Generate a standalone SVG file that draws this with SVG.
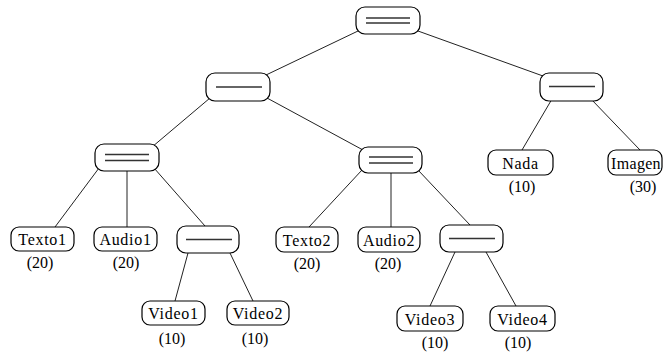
<svg xmlns="http://www.w3.org/2000/svg" width="664" height="352" viewBox="0 0 664 352">
<defs>
<style>
.box{fill:#fff;stroke:#000;stroke-width:1.2}
.bar{stroke:#333;stroke-width:1.6}
.edge{stroke:#222;stroke-width:1;fill:none}
</style>
</defs>
<rect width="664" height="352" fill="#fff"/>
<g id="connectors">
<line class="edge" x1="358" y1="31" x2="266" y2="75"/>
<line class="edge" x1="418" y1="31" x2="543" y2="76"/>
<line class="edge" x1="210" y1="98" x2="152" y2="147"/>
<line class="edge" x1="267" y1="98" x2="363" y2="150"/>
<line class="edge" x1="99" y1="168" x2="55" y2="227"/>
<line class="edge" x1="127" y1="171" x2="127" y2="227"/>
<line class="edge" x1="154" y1="168" x2="205" y2="226"/>
<line class="edge" x1="188" y1="253" x2="175" y2="301"/>
<line class="edge" x1="230" y1="253" x2="253" y2="301"/>
<line class="edge" x1="362" y1="170" x2="309" y2="227"/>
<line class="edge" x1="391" y1="173" x2="391" y2="227"/>
<line class="edge" x1="418" y1="170" x2="470" y2="225"/>
<line class="edge" x1="455" y1="252" x2="430" y2="306"/>
<line class="edge" x1="486" y1="252" x2="516" y2="306"/>
<line class="edge" x1="552" y1="99" x2="522" y2="150"/>
<line class="edge" x1="591" y1="99" x2="640" y2="150"/>
</g>
<g id="root">
<rect class="box" x="356" y="7" width="64" height="27" rx="9"/>
<line class="bar" x1="366" y1="18" x2="410" y2="18"/>
<line class="bar" x1="366" y1="23" x2="410" y2="23"/>
</g>
<g id="n1L">
<rect class="box" x="206" y="73" width="64" height="28" rx="9"/>
<line class="bar" x1="216" y1="87" x2="262" y2="87"/>
</g>
<g id="n1R">
<rect class="box" x="540" y="73" width="63" height="28" rx="9"/>
<line class="bar" x1="549" y1="86.5" x2="595" y2="86.5"/>
</g>
<g id="n2L">
<rect class="box" x="95" y="144" width="64" height="27" rx="9"/>
<line class="bar" x1="105" y1="154.5" x2="149" y2="154.5"/>
<line class="bar" x1="105" y1="160.5" x2="149" y2="160.5"/>
</g>
<g id="n2R">
<rect class="box" x="359" y="147" width="63" height="26" rx="9"/>
<line class="bar" x1="369" y1="157" x2="413" y2="157"/>
<line class="bar" x1="369" y1="163" x2="413" y2="163"/>
</g>
<g id="n3L">
<rect class="box" x="177" y="226" width="62" height="27" rx="9"/>
<line class="bar" x1="186" y1="239.5" x2="232" y2="239.5"/>
</g>
<g id="n3R">
<rect class="box" x="440" y="225" width="63" height="27" rx="9"/>
<line class="bar" x1="449" y1="238.5" x2="495" y2="238.5"/>
</g>
<g id="texto1">
<rect class="box" x="11" y="227" width="63" height="24" rx="8"/>
<text x="42.5" y="245" font-family="Liberation Serif" font-size="16" letter-spacing="0.7" text-anchor="middle">Texto1</text>
<text x="40" y="268" font-family="Liberation Serif" font-size="16" text-anchor="middle">(20)</text>
</g>
<g id="audio1">
<rect class="box" x="94" y="227" width="63" height="24" rx="8"/>
<text x="125.5" y="245" font-family="Liberation Serif" font-size="16" letter-spacing="0.7" text-anchor="middle">Audio1</text>
<text x="126" y="268" font-family="Liberation Serif" font-size="16" text-anchor="middle">(20)</text>
</g>
<g id="video1">
<rect class="box" x="142" y="301" width="63" height="24" rx="8"/>
<text x="173.5" y="319" font-family="Liberation Serif" font-size="16" letter-spacing="0.7" text-anchor="middle">Video1</text>
<text x="172" y="344" font-family="Liberation Serif" font-size="16" text-anchor="middle">(10)</text>
</g>
<g id="video2">
<rect class="box" x="227" y="301" width="62" height="24" rx="8"/>
<text x="258" y="319" font-family="Liberation Serif" font-size="16" letter-spacing="0.7" text-anchor="middle">Video2</text>
<text x="255" y="344" font-family="Liberation Serif" font-size="16" text-anchor="middle">(10)</text>
</g>
<g id="texto2">
<rect class="box" x="276" y="227" width="62" height="25" rx="8"/>
<text x="307" y="246" font-family="Liberation Serif" font-size="16" letter-spacing="0.7" text-anchor="middle">Texto2</text>
<text x="307" y="269" font-family="Liberation Serif" font-size="16" text-anchor="middle">(20)</text>
</g>
<g id="audio2">
<rect class="box" x="358" y="227" width="62" height="25" rx="8"/>
<text x="389" y="246" font-family="Liberation Serif" font-size="16" letter-spacing="0.7" text-anchor="middle">Audio2</text>
<text x="388" y="269" font-family="Liberation Serif" font-size="16" text-anchor="middle">(20)</text>
</g>
<g id="video3">
<rect class="box" x="397" y="306" width="66" height="25" rx="8"/>
<text x="430" y="325" font-family="Liberation Serif" font-size="16" letter-spacing="0.7" text-anchor="middle">Video3</text>
<text x="435" y="348" font-family="Liberation Serif" font-size="16" text-anchor="middle">(10)</text>
</g>
<g id="video4">
<rect class="box" x="490" y="306" width="65" height="25" rx="8"/>
<text x="522.5" y="325" font-family="Liberation Serif" font-size="16" letter-spacing="0.7" text-anchor="middle">Video4</text>
<text x="518" y="348" font-family="Liberation Serif" font-size="16" text-anchor="middle">(10)</text>
</g>
<g id="nada">
<rect class="box" x="488" y="150" width="65" height="25" rx="8"/>
<text x="520.5" y="169" font-family="Liberation Serif" font-size="16" letter-spacing="0.7" text-anchor="middle">Nada</text>
<text x="522" y="192" font-family="Liberation Serif" font-size="16" text-anchor="middle">(10)</text>
</g>
<g id="imagen">
<rect class="box" x="608" y="150" width="54" height="25" rx="8"/>
<text x="636" y="169" font-family="Liberation Serif" font-size="16" letter-spacing="0.3" text-anchor="middle">Imagen</text>
<text x="643" y="192" font-family="Liberation Serif" font-size="16" text-anchor="middle">(30)</text>
</g>
</svg>
